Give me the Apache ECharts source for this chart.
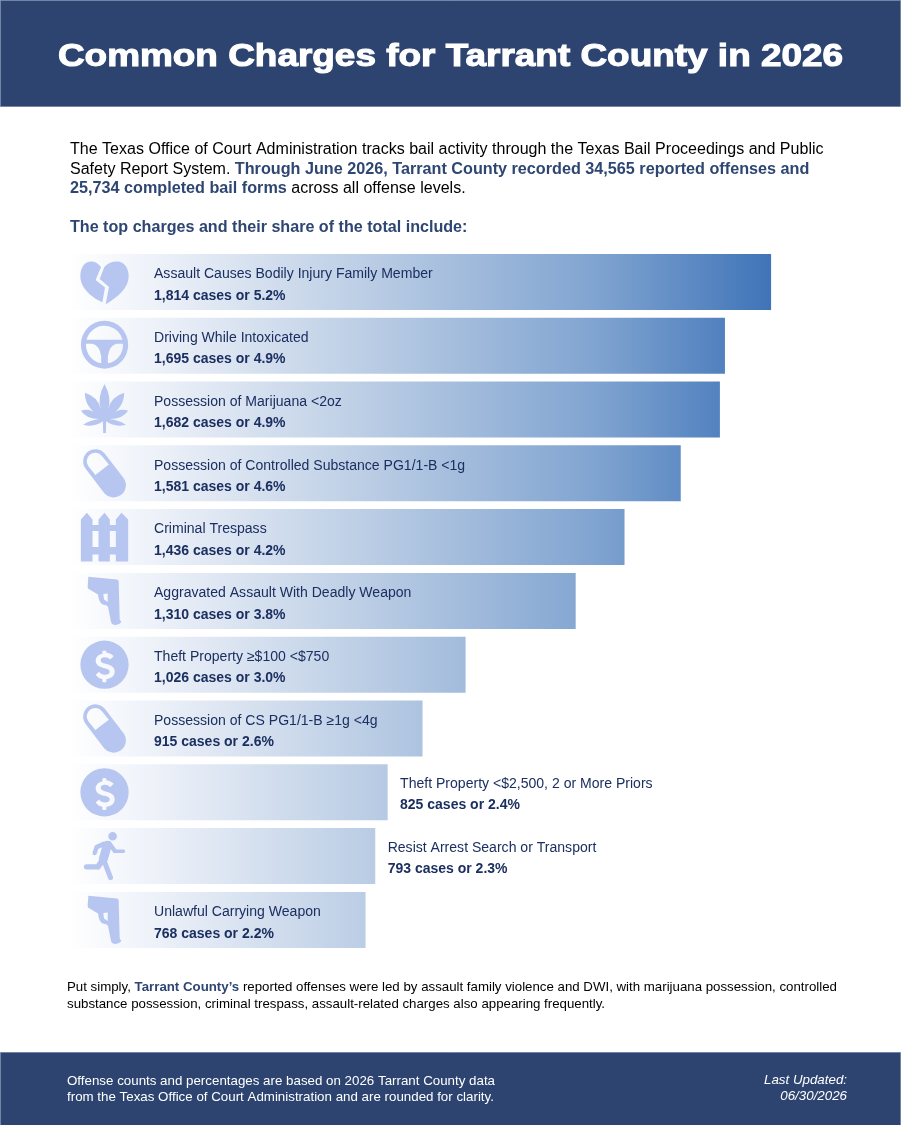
<!DOCTYPE html>
<html>
<head>
<meta charset="utf-8">
<style>html,body{margin:0;padding:0;background:#fff}#c{width:901px;height:1125px}</style>
<script src="https://cdn.jsdelivr.net/npm/echarts@6/dist/echarts.min.js"></script>
</head>
<body>
<div id="c"></div>
<script>
const charges = ['Assault Causes Bodily Injury Family Member','Driving While Intoxicated','Possession of Marijuana <2oz','Possession of Controlled Substance PG1/1-B <1g','Criminal Trespass','Aggravated Assault With Deadly Weapon','Theft Property ≥$100 <$750','Possession of CS PG1/1-B ≥1g <4g','Theft Property <$2,500, 2 or More Priors','Resist Arrest Search or Transport','Unlawful Carrying Weapon'];
const cases = [1814,1695,1682,1581,1436,1310,1026,915,825,793,768];
const shares = ['5.2%','4.9%','4.9%','4.6%','4.2%','3.8%','3.0%','2.6%','2.4%','2.3%','2.2%'];
const iconNames = ['heart','wheel','leaf','pill','fence','gun','dollar','pill','dollar','runner','gun'];
const outsideLabel = [false,false,false,false,false,false,false,false,true,true,false];

const titleText = 'Common Charges for Tarrant County in 2026';
const introLines = [
  '{n|The Texas Office of Court Administration tracks bail activity through the Texas Bail Proceedings and Public}',
  '{n|Safety Report System. }{b|Through June 2026, Tarrant County recorded 34,565 reported offenses and}',
  '{b|25,734 completed bail forms}{n| across all offense levels.}'
];
const subhead = 'The top charges and their share of the total include:';
const closingLines = [
  '{n|Put simply, }{b|Tarrant County’s}{n| reported offenses were led by assault family violence and DWI, with marijuana possession, controlled}',
  '{n|substance possession, criminal trespass, assault-related charges also appearing frequently.}'
];
const footerLines = ['Offense counts and percentages are based on 2026 Tarrant County data','from the Texas Office of Court Administration and are rounded for clarity.'];
const updatedLines = ['Last Updated:','06/30/2026'];

// ---- layout / style ----
const FONT = '"Liberation Sans", Arial, sans-serif';
const NAVY = '#2d4470', BLUE = '#2e4672', INK = '#1b2f60', ICON = '#b7c6f0';
const GRID_LEFT = 67.8, GRID_WIDTH = 775.4, X_MAX = 2000;
const GRID_TOP = 250, GRID_HEIGHT = 701.8;
const ICON_VALUE = 94.7;

// ---- icon shapes ----
function seg(a,b,c,d,w){
  const L=Math.hypot(c-a,d-b),dx=(c-a)/L,dy=(d-b)/L,r=w/2,nx=dy*r,ny=-dx*r;
  const circ=(x,y)=>`M${x-r},${y} A${r},${r} 0 0 1 ${x+r},${y} A${r},${r} 0 0 1 ${x-r},${y} Z `;
  return `M${a+nx},${b+ny} L${c+nx},${d+ny} L${c-nx},${d-ny} L${a-nx},${b-ny} Z `+circ(a,b)+circ(c,d);
}
const ICONS = {
  heart:{w:48.3,h:42.7,dy:1,d:'M62,16 C52,5 44,0 33,0 C13,0 0,18 0,44 C0,80 35,108 66,122 L74,78 L46,55 Z M72,16 C82,5 95,0 110,0 C130,0 145,18 145,44 C145,80 110,108 76,128 L86,76 L58,52 Z'},
  wheel:{w:47.3,h:48,dy:-1,d:'M71,0 A71,71 0 0 0 71,142 A71,71 0 0 0 71,0 Z M17,56 A56,56 0 0 1 125,56 Z M15.4,68 L34,68 Q56,72 61,105 L61,126 A56,56 0 0 1 15.4,68 Z M81,126 L81,105 Q86,72 108,68 L126.6,68 A56,56 0 0 1 81,126 Z'},
  leaf:{w:47.3,h:49,dy:-1,d:'M71,0 Q94,42 82,76 Q90,38 130,26 Q130,68 90,94 Q114,70 142,80 Q124,106 86,105 Q114,108 135,122 Q103,131 76,112 L75,147 L67,147 L66,112 Q39,131 7,122 Q28,108 56,105 Q18,106 0,80 Q28,70 52,94 Q12,68 12,26 Q52,38 60,76 Q48,42 71,0 Z'},
  pill:{w:42.7,h:48.3,dy:0,d:'M64.5,14.1 L120.5,87.1 A36,36 0 0 1 63.5,130.9 L7.5,57.9 A36,36 0 0 1 64.5,14.1 Z M55.8,20.8 A25,25 0 0 0 16.2,51.2 L37.2,77.2 L76.8,46.8 Z'},
  fence:{w:47.3,h:48.6,dy:0,d:'M0,20 L18,0 L35,20 L35,37 L53,37 L53,20 L71,0 L87,20 L87,37 L105,37 L105,20 L122,0 L142,20 L142,146 L105,146 L105,125 L87,125 L87,146 L53,146 L53,125 L35,125 L35,146 L0,146 Z M35,55 L35,103 L53,103 L53,55 Z M87,55 L87,103 L105,103 L105,55 Z'},
  gun:{w:33.7,h:48.3,dy:0,d:'M2,0 L88,8 Q93,9 93,14 L96,128 L101,136 Q96,143 84,145 Q72,145 70,136 L61,90 Q55,84 48,84 Q34,80 31,53 L2,36 Q0,35 0,30 Z M47,52 L49,68 L60,76 L60,50 Z'},
  dollar:{w:48.3,h:48.3,dy:0,d:'M72.5,0 A72.5,72.5 0 0 1 72.5,145 A72.5,72.5 0 0 1 72.5,0 Z M66,32 L66,40 C52,43 46,52 46,60 C46,75 58,79 72,83 C84,86 88,88 88,94 C88,100 82,103 74,103 C66,103 60,100 56,94 L46,103 C51,110 58,115 66,116 L66,124 Q72,128 78,124 L78,116 C93,114 103,106 103,93 C103,78 90,74 76,70 C65,67 61,64 61,59 C61,54 66,50 73,50 C80,50 85,52 89,57 L100,47 C94,41 87,38 78,36 L78,32 Q72,27 66,32 Z'},
  runner:{w:41.3,h:48.3,dy:0,d:'M86,0 A13,13 0 0 1 86,26 A13,13 0 0 1 86,0 Z '+seg(60,36,38,46,14)+seg(38,46,32,64,13)+seg(76,34,93,58,13)+seg(93,58,118,58,11)+seg(70,40,58,82,27)+seg(58,82,42,105,17)+seg(42,105,8,105,16)+seg(58,80,80,138,15)}
};

const barColor = new echarts.graphic.LinearGradient(GRID_LEFT,0,GRID_LEFT+GRID_WIDTH*cases[0]/X_MAX,0,[
  {offset:0,color:'#ffffff'},{offset:.12,color:'#eef2f9'},{offset:.42,color:'#bccee5'},{offset:.756,color:'#7fa3d0'},{offset:1,color:'#3f74b8'}
],true);

const labelRich = {
  a:{fontFamily:FONT,fontSize:14.05,color:INK,lineHeight:21.5},
  b:{fontFamily:FONT,fontSize:14,fontWeight:'bold',color:INK,lineHeight:21.5}
};

const barData = cases.map((v,i)=>({
  value:v,
  label:{
    show:true,
    formatter:`{a|${charges[i]}}\n{b|${v.toLocaleString('en-US')} cases or ${shares[i]}}`,
    rich:labelRich,
    ...(outsideLabel[i]?{position:'right',distance:12.4,offset:[0,2.5]}:{position:[86.2,31.1],verticalAlign:'middle',align:'left'})
  }
}));

const iconData = iconNames.map((n,i)=>({
  value:[ICON_VALUE,i],
  symbol:'path://'+ICONS[n].d,
  symbolSize:[ICONS[n].w,ICONS[n].h],
  symbolOffset:[0,ICONS[n].dy]
}));

function line(x,y,text,style){
  return {type:'text',x,y,silent:true,z:10,style:Object.assign({text,font:`14px ${FONT}`,fill:'#000',verticalAlign:'middle',textVerticalAlign:'middle'},style)};
}
const introRich={n:{fontFamily:FONT,fontSize:16.05,fill:'#000'},b:{fontFamily:FONT,fontSize:16.2,fontWeight:'bold',fill:BLUE}};
const closeRich={n:{fontFamily:FONT,fontSize:13.28,fill:'#000'},b:{fontFamily:FONT,fontSize:13.28,fontWeight:'bold',fill:BLUE}};

const graphics = [
  {type:'rect',silent:true,z:1,shape:{x:.5,y:.5,width:900,height:106},style:{fill:NAVY,stroke:'#7385a6',lineWidth:1}},
  {type:'rect',silent:true,z:1,shape:{x:.5,y:1052.5,width:900,height:73},style:{fill:NAVY,stroke:'#7385a6',lineWidth:1}},
  {type:'text',silent:true,z:10,x:450.5,y:57,scaleX:1.154,style:{text:titleText,font:`bold 32px ${FONT}`,fill:'#fff',stroke:'#fff',lineWidth:1.1,align:'center',textAlign:'center',verticalAlign:'middle',textVerticalAlign:'middle'}},
  line(70,150,introLines[0],{rich:introRich}),
  line(70,170,introLines[1],{rich:introRich}),
  line(70,189,introLines[2],{rich:introRich}),
  line(70,228,subhead,{font:`bold 16.12px ${FONT}`,fill:BLUE}),
  line(67,987,closingLines[0],{rich:closeRich}),
  line(67,1004,closingLines[1],{rich:closeRich}),
  line(67,1081.5,footerLines[0],{font:`13.33px ${FONT}`,fill:'#fff'}),
  line(67,1097.5,footerLines[1],{font:`13.33px ${FONT}`,fill:'#fff'}),
  line(847,1080.5,updatedLines[0],{font:`italic 13.33px ${FONT}`,fill:'#fff',align:'right',textAlign:'right'}),
  line(847,1096.5,updatedLines[1],{font:`italic 13.33px ${FONT}`,fill:'#fff',align:'right',textAlign:'right'})
];

const chart = echarts.init(document.getElementById('c'),null,{renderer:'canvas',width:901,height:1125});
chart.setOption({
  animation:false,
  backgroundColor:'#ffffff',
  textStyle:{fontFamily:FONT},
  grid:{left:GRID_LEFT,top:GRID_TOP,width:GRID_WIDTH,height:GRID_HEIGHT,containLabel:false},
  xAxis:{type:'value',min:0,max:X_MAX,show:false},
  yAxis:{type:'category',data:charges,inverse:true,show:false},
  graphic:graphics,
  series:[
    {type:'bar',data:barData,barWidth:56,itemStyle:{color:barColor},silent:true,z:2},
    {type:'scatter',data:iconData,symbolKeepAspect:false,itemStyle:{color:ICON,opacity:1},silent:true,z:3}
  ]
});
</script>
</body>
</html>
